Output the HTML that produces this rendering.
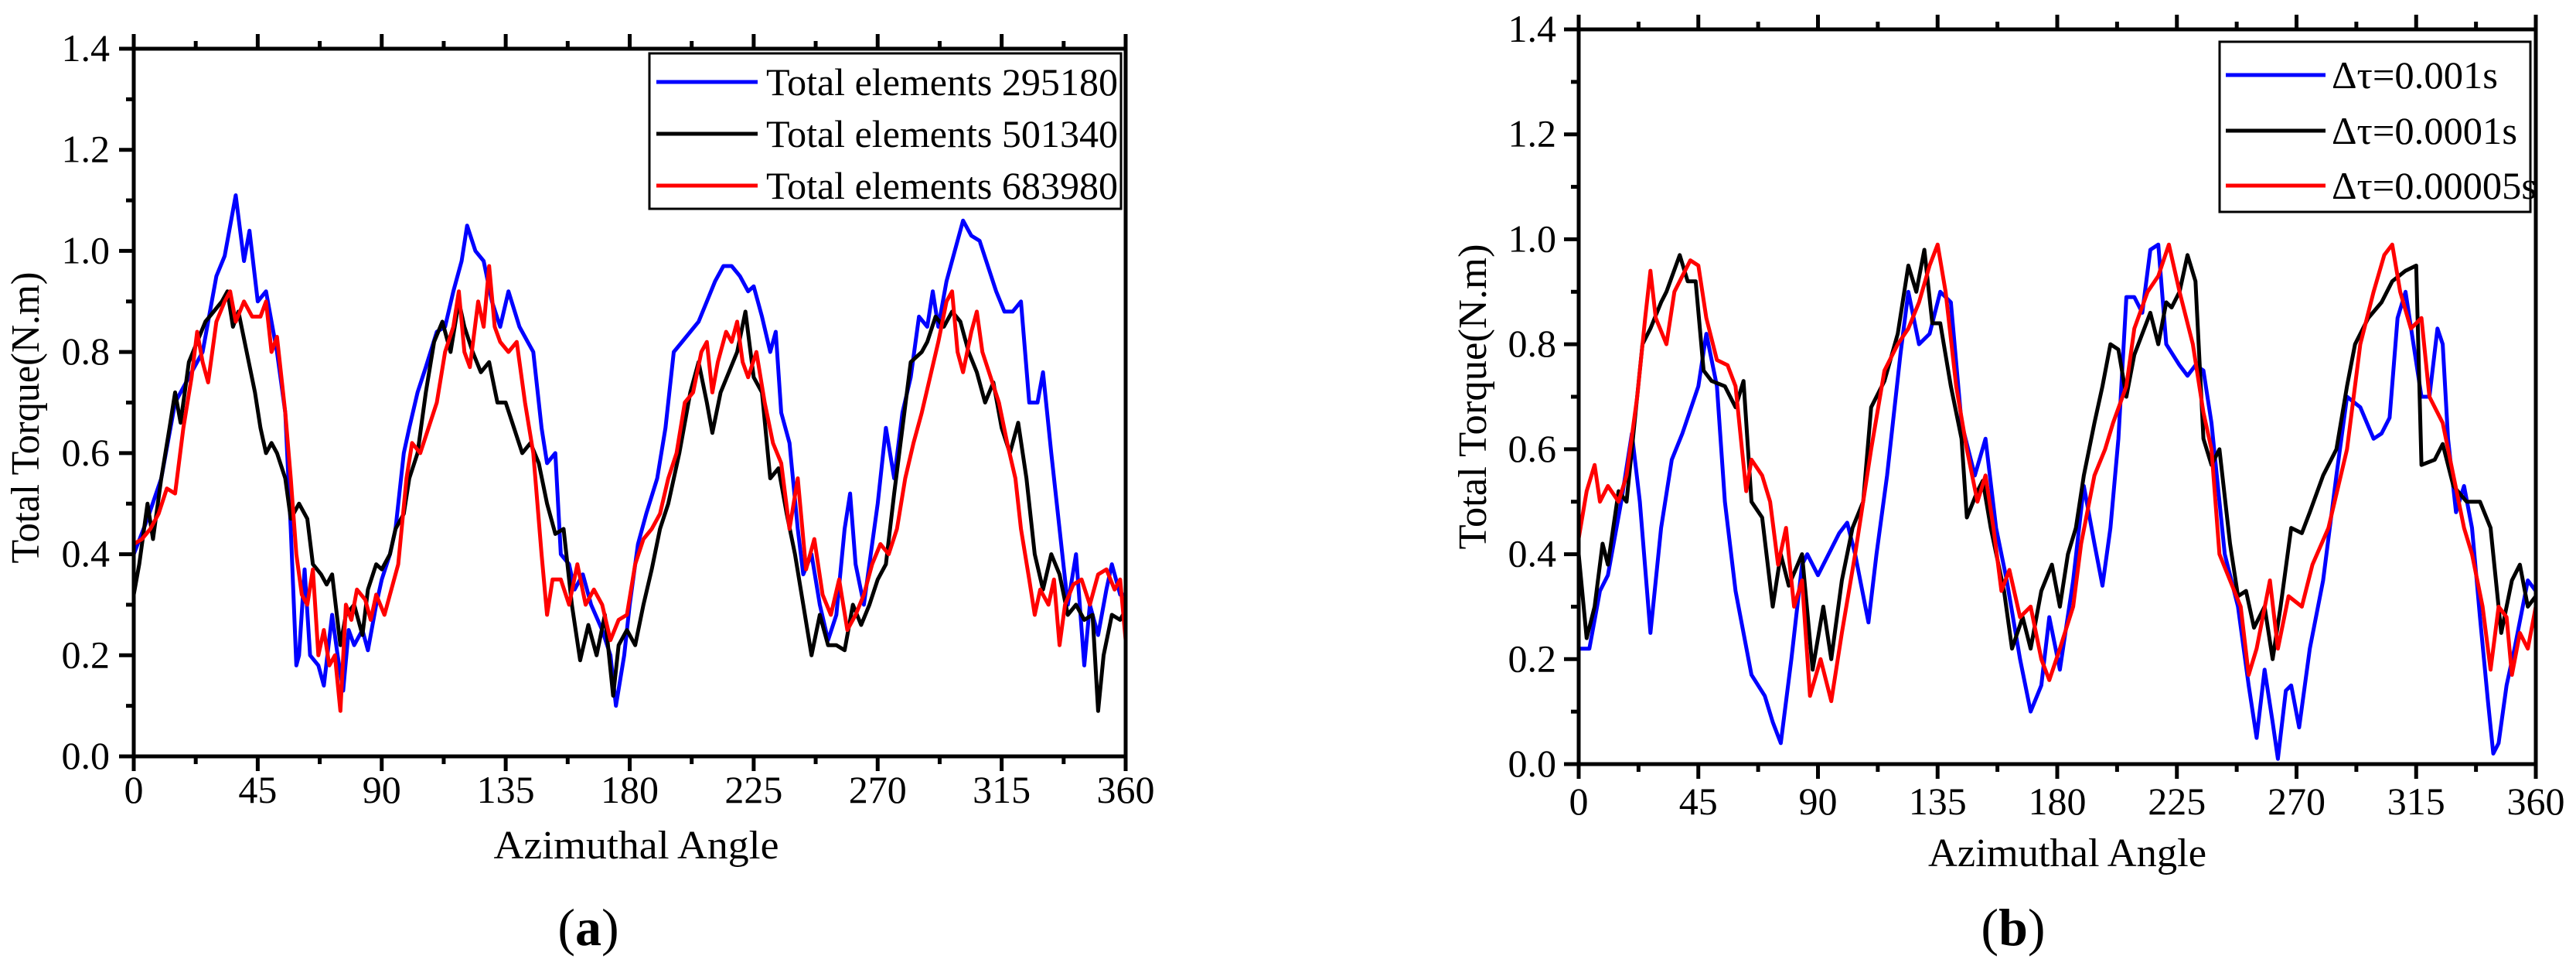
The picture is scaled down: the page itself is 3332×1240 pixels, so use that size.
<!DOCTYPE html>
<html><head><meta charset="utf-8"><style>
html,body{margin:0;padding:0;background:#fff;}
svg{display:block;}
svg text{font-family:"Liberation Serif","DejaVu Serif",serif;}
</style></head><body>
<svg id="svg" width="3332" height="1240" viewBox="0 0 3332 1240" xmlns="http://www.w3.org/2000/svg" font-family="Liberation Serif, serif"></svg>
<script>
// ---- Chart (a) data ----
const aBlueX=[0,5,10,15,20,25,30,33,37,40,42,45,48,52,55,57,59,60,62,64,67,69,72,74,76,78,80,83,85,88,90,93,95,98,100,103,106,110,113,116,119,121,124,127,130,133,136,140,143,145,148,150,153,155,158,160,163,166,170,173,175,178,180,183,186,190,193,196,199,202,205,208,211,214,217,220,223,225,228,231,233,235,238,241,243,246,249,252,255,258,260,262,265,268,270,273,276,279,282,285,288,290,292,295,298,301,304,307,310,313,316,319,322,325,328,330,333,336,339,342,345,347,350,353,355,358,360];
const aBlueY=[0.40,0.47,0.55,0.70,0.75,0.80,0.95,0.99,1.11,0.98,1.04,0.90,0.92,0.80,0.68,0.45,0.18,0.20,0.37,0.20,0.18,0.14,0.28,0.20,0.13,0.25,0.22,0.25,0.21,0.30,0.35,0.40,0.45,0.60,0.65,0.72,0.77,0.84,0.85,0.92,0.98,1.05,1.00,0.98,0.90,0.85,0.92,0.85,0.82,0.80,0.65,0.58,0.60,0.40,0.38,0.33,0.36,0.30,0.25,0.20,0.10,0.20,0.30,0.42,0.48,0.55,0.65,0.80,0.82,0.84,0.86,0.90,0.94,0.97,0.97,0.95,0.92,0.93,0.87,0.80,0.84,0.68,0.62,0.45,0.36,0.40,0.30,0.23,0.28,0.45,0.52,0.38,0.30,0.42,0.50,0.65,0.55,0.68,0.75,0.87,0.85,0.92,0.85,0.94,1.00,1.06,1.03,1.02,0.97,0.92,0.88,0.88,0.90,0.70,0.70,0.76,0.60,0.45,0.30,0.40,0.18,0.30,0.24,0.33,0.38,0.32,0.32];
const aBlackX=[0,2,5,7,10,13,15,17,20,23,26,29,32,34,36,38,41,44,46,48,50,52,55,57,60,63,65,68,70,72,75,77,80,83,85,88,90,93,95,98,100,103,106,109,112,115,118,120,123,126,129,132,135,138,141,144,147,150,153,156,159,162,165,168,171,174,176,179,182,185,188,191,194,198,202,205,208,210,213,216,219,222,225,228,231,234,237,240,243,246,249,252,255,258,261,264,267,270,273,276,279,282,286,288,291,294,297,300,303,306,309,312,315,318,321,324,327,330,333,336,339,342,345,348,350,352,355,358,360];
const aBlackY=[0.32,0.38,0.50,0.43,0.55,0.65,0.72,0.66,0.78,0.82,0.86,0.88,0.90,0.92,0.85,0.88,0.80,0.72,0.65,0.60,0.62,0.60,0.55,0.47,0.50,0.47,0.38,0.36,0.34,0.36,0.22,0.28,0.30,0.24,0.33,0.38,0.37,0.40,0.45,0.48,0.55,0.60,0.72,0.82,0.86,0.80,0.90,0.85,0.80,0.76,0.78,0.70,0.70,0.65,0.60,0.62,0.58,0.50,0.44,0.45,0.30,0.19,0.26,0.20,0.28,0.12,0.22,0.25,0.22,0.30,0.37,0.45,0.50,0.60,0.72,0.78,0.70,0.64,0.72,0.76,0.80,0.88,0.75,0.72,0.55,0.57,0.48,0.40,0.30,0.20,0.28,0.22,0.22,0.21,0.30,0.26,0.30,0.35,0.38,0.52,0.65,0.78,0.80,0.82,0.87,0.85,0.88,0.86,0.80,0.76,0.70,0.74,0.65,0.60,0.66,0.55,0.40,0.33,0.40,0.36,0.28,0.30,0.27,0.28,0.09,0.20,0.28,0.27,0.29];
const aRedX=[0,3,6,9,12,15,18,21,23,25,27,30,33,35,37,40,43,46,48,50,52,55,57,59,61,63,65,67,69,71,73,75,77,79,81,84,86,88,91,93,96,99,101,104,107,110,113,116,118,120,122,125,127,129,131,133,136,139,142,145,148,150,152,155,158,161,164,167,170,173,176,179,182,185,188,191,194,197,200,203,206,208,210,212,215,217,219,221,223,226,229,232,235,238,241,244,247,250,253,256,259,262,265,268,271,274,277,280,283,286,289,292,295,297,299,301,304,306,308,311,314,317,320,322,325,327,329,332,334,336,338,341,344,347,350,353,356,358,360];
const aRedY=[0.42,0.43,0.45,0.48,0.53,0.52,0.65,0.75,0.84,0.78,0.74,0.86,0.90,0.92,0.86,0.90,0.87,0.87,0.90,0.80,0.83,0.68,0.55,0.40,0.32,0.30,0.37,0.20,0.25,0.18,0.20,0.09,0.30,0.27,0.33,0.31,0.27,0.32,0.28,0.32,0.38,0.55,0.62,0.60,0.65,0.70,0.80,0.85,0.92,0.80,0.77,0.90,0.85,0.97,0.85,0.82,0.80,0.82,0.70,0.60,0.40,0.28,0.35,0.35,0.30,0.38,0.30,0.33,0.30,0.23,0.27,0.28,0.38,0.43,0.45,0.48,0.55,0.60,0.70,0.72,0.80,0.82,0.72,0.78,0.84,0.82,0.86,0.78,0.75,0.80,0.70,0.62,0.58,0.45,0.55,0.37,0.43,0.32,0.28,0.35,0.25,0.28,0.32,0.38,0.42,0.40,0.45,0.55,0.62,0.68,0.75,0.82,0.90,0.92,0.80,0.76,0.84,0.88,0.80,0.75,0.70,0.62,0.55,0.45,0.35,0.28,0.33,0.30,0.35,0.22,0.30,0.34,0.35,0.30,0.36,0.37,0.33,0.35,0.23];
// ---- Chart (b) data ----
const bBlueX=[0,4,8,11,16,20,23,27,31,35,39,45,48,52,55,59,65,70,73,76,80,84,86,90,95,98,101,104,109,112,116,121,124,128,132,136,140,144,149,153,157,161,166,170,174,177,181,186,190,194,197,200,203,206,209,212,215,218,221,226,229,232,235,238,243,248,252,255,258,261,263,266,268,271,275,280,285,289,294,299,302,305,308,311,314,317,320,323,325,327,330,333,336,339,342,344,346,349,352,357,360];
const bBlueY=[0.22,0.22,0.33,0.36,0.50,0.63,0.50,0.25,0.45,0.58,0.63,0.72,0.82,0.72,0.50,0.33,0.17,0.13,0.08,0.04,0.20,0.38,0.40,0.36,0.41,0.44,0.46,0.40,0.27,0.40,0.55,0.78,0.90,0.80,0.82,0.90,0.88,0.65,0.55,0.62,0.45,0.35,0.20,0.10,0.15,0.28,0.18,0.35,0.53,0.42,0.34,0.45,0.62,0.89,0.89,0.86,0.98,0.99,0.80,0.76,0.74,0.76,0.75,0.65,0.40,0.30,0.15,0.05,0.18,0.08,0.01,0.14,0.15,0.07,0.22,0.35,0.55,0.70,0.68,0.62,0.63,0.66,0.85,0.90,0.80,0.70,0.70,0.83,0.80,0.62,0.48,0.53,0.45,0.28,0.12,0.02,0.04,0.15,0.22,0.35,0.33];
const bBlackX=[0,3,6,9,11,15,18,21,24,27,31,33,38,41,44,47,50,55,59,62,65,69,73,76,79,84,88,92,95,99,103,107,110,115,120,124,127,130,133,136,140,144,146,150,152,155,160,163,167,170,174,178,181,184,187,190,194,197,200,203,206,209,212,215,218,221,223,226,229,232,235,238,241,245,248,251,254,258,261,264,268,272,275,280,285,289,292,297,302,306,311,315,317,322,325,329,334,339,343,347,351,354,357,360];
const bBlackY=[0.40,0.24,0.30,0.42,0.38,0.52,0.50,0.65,0.80,0.83,0.88,0.90,0.97,0.92,0.92,0.75,0.73,0.72,0.68,0.73,0.50,0.47,0.30,0.40,0.34,0.40,0.18,0.30,0.20,0.35,0.45,0.50,0.68,0.73,0.82,0.95,0.90,0.98,0.84,0.84,0.72,0.62,0.47,0.52,0.54,0.45,0.33,0.22,0.28,0.22,0.33,0.38,0.30,0.40,0.45,0.55,0.65,0.72,0.80,0.79,0.70,0.78,0.82,0.86,0.80,0.88,0.87,0.90,0.97,0.92,0.62,0.57,0.60,0.42,0.32,0.33,0.26,0.30,0.20,0.30,0.45,0.44,0.48,0.55,0.60,0.72,0.80,0.85,0.88,0.92,0.94,0.95,0.57,0.58,0.61,0.53,0.50,0.50,0.45,0.25,0.35,0.38,0.30,0.32];
const bRedX=[0,3,6,8,11,15,18,22,25,27,29,33,36,39,42,45,48,52,56,59,63,65,69,72,75,78,81,84,87,91,95,99,104,110,115,120,124,128,132,135,138,142,146,150,153,156,159,162,166,170,174,177,181,186,189,194,198,201,206,209,214,218,222,226,231,235,238,241,245,249,252,255,260,263,267,272,276,282,289,294,299,303,306,309,313,317,320,325,329,333,336,340,343,346,349,351,354,357,360];
const bRedY=[0.43,0.52,0.57,0.50,0.53,0.50,0.55,0.70,0.85,0.94,0.85,0.80,0.90,0.93,0.96,0.95,0.85,0.77,0.76,0.72,0.52,0.58,0.55,0.50,0.38,0.45,0.30,0.35,0.13,0.20,0.12,0.25,0.40,0.60,0.75,0.80,0.83,0.88,0.95,0.99,0.90,0.72,0.60,0.50,0.55,0.45,0.33,0.37,0.28,0.30,0.20,0.16,0.22,0.30,0.42,0.55,0.60,0.65,0.72,0.83,0.90,0.93,0.99,0.90,0.80,0.67,0.60,0.40,0.35,0.30,0.17,0.22,0.35,0.22,0.32,0.30,0.38,0.45,0.60,0.80,0.90,0.97,0.99,0.90,0.83,0.85,0.70,0.65,0.55,0.45,0.40,0.30,0.18,0.30,0.28,0.17,0.25,0.22,0.30];
const xTicks=[0,45,90,135,180,225,270,315,360];
const yTicks=["0.0","0.2","0.4","0.6","0.8","1.0","1.2","1.4"];
const legendA=["Total elements 295180","Total elements 501340","Total elements 683980"];
const legendB=["\u0394\u03c4=0.001s","\u0394\u03c4=0.0001s","\u0394\u03c4=0.00005s"];

const NS="http://www.w3.org/2000/svg";
const svg=document.getElementById('svg');
function mk(tag,attrs,parent,name,inter){
  const e=document.createElementNS(NS,tag);
  for(const k in attrs)e.setAttribute(k,attrs[k]);
  if(tag==='text')e.setAttribute('font-family','Liberation Serif, serif');
  
  
  (parent||svg).appendChild(e);return e;
}
function chart(c){
  const g=mk('g',{},svg,c.id,false);
  const sx=v=>c.x0+(v-0)/360*(c.x1-c.x0);
  const sy=v=>c.y0-(v/1.4)*(c.y0-c.y1);
  c.series.forEach(s=>{
    let d='';
    s.x.forEach((xv,i)=>{d+=(i?'L':'M')+sx(xv).toFixed(1)+' '+sy(s.y[i]).toFixed(1);});
    mk('path',{d:d,fill:'none',stroke:s.color,'stroke-width':5,'stroke-linejoin':'round'},g,s.name,false);
  });
  mk('rect',{x:c.x0,y:c.y1,width:c.x1-c.x0,height:c.y0-c.y1,fill:'none',stroke:'#000','stroke-width':5},g,'plot-frame',false);
  for(let i=0;i<=16;i++){
    const v=i*22.5, X=sx(v), L=i%2?10:19;
    mk('line',{x1:X,y1:c.y0,x2:X,y2:c.y0+L,stroke:'#000','stroke-width':5},g,'x-tick',false);
    mk('line',{x1:X,y1:c.y1,x2:X,y2:c.y1-L,stroke:'#000','stroke-width':5},g,'x-tick-top',false);
  }
  xTicks.forEach(v=>{
    const t=mk('text',{x:sx(v),y:c.xLabY,'font-size':50,'text-anchor':'middle'},g,'x-tick-label',false);
    t.textContent=v;
  });
  for(let i=0;i<=14;i++){
    const Y=sy(i*0.1), L=i%2?10:19;
    mk('line',{x1:c.x0,y1:Y,x2:c.x0-L,y2:Y,stroke:'#000','stroke-width':5},g,'y-tick',false);
  }
  yTicks.forEach((s,i)=>{
    const t=mk('text',{x:c.yLabX,y:sy(i*0.2)+16,'font-size':50,'text-anchor':'end'},g,'y-tick-label',false);
    t.textContent=s;
  });
  const xt=mk('text',{x:c.xtX,y:c.xtY,'font-size':52,'text-anchor':'middle',textLength:c.xtLen,lengthAdjust:'spacingAndGlyphs'},g,'x-axis-title',false);
  xt.textContent='Azimuthal Angle';
  const yt=mk('text',{x:0,y:0,'font-size':52,'text-anchor':'middle',textLength:c.ytLen,lengthAdjust:'spacingAndGlyphs',transform:`translate(${c.ytX},${c.ytY}) rotate(-90)`},g,'y-axis-title',false);
  yt.textContent='Total Torque(N.m)';
  const lg=mk('g',{},g,'legend',false);
  mk('rect',{x:c.lg[0],y:c.lg[1],width:c.lg[2]-c.lg[0],height:c.lg[3]-c.lg[1],fill:'#fff',stroke:'#000','stroke-width':3},lg,'legend-box',false);
  c.series.forEach((s,i)=>{
    const Y=c.lgRows[i];
    mk('line',{x1:c.lgL[0],y1:Y,x2:c.lgL[1],y2:Y,stroke:s.color,'stroke-width':5},lg,'legend-swatch',false);
    const t=mk('text',{x:c.lgL[2],y:Y+17,'font-size':50,textLength:c.lgLen[i],lengthAdjust:'spacingAndGlyphs'},lg,'legend-entry',false);
    t.textContent=c.labels[i];
  });
  const p=mk('text',{x:c.pX,y:1222,'font-size':68,'text-anchor':'middle'},g,'panel-label',false);
  p.innerHTML='(<tspan font-weight="bold">'+c.panel+'</tspan>)';
}
chart({id:'chart-a',x0:173,x1:1456,y0:978,y1:63,xLabY:1038,yLabX:142,xtX:823,xtY:1110,xtLen:369,ytX:50,ytY:540,ytLen:377,
  lg:[840,69,1450,270],lgRows:[106,173,240],lgL:[849,980,991],lgLen:[455,455,455],labels:legendA,pX:761,panel:'a',
  series:[{name:'series-295180',color:'#0000ff',x:aBlueX,y:aBlueY},{name:'series-501340',color:'#000000',x:aBlackX,y:aBlackY},{name:'series-683980',color:'#ff0000',x:aRedX,y:aRedY}]});
chart({id:'chart-b',x0:2042,x1:3280,y0:988,y1:38,xLabY:1053,yLabX:2013,xtX:2674,xtY:1120,xtLen:360,ytX:1922,ytY:513,ytLen:395,
  lg:[2871,54,3273,274],lgRows:[97,169,240],lgL:[2879,3008,3016],lgLen:[215,240,265],labels:legendB,pX:2604,panel:'b',
  series:[{name:'series-dt-0.001',color:'#0000ff',x:bBlueX,y:bBlueY},{name:'series-dt-0.0001',color:'#000000',x:bBlackX,y:bBlackY},{name:'series-dt-0.00005',color:'#ff0000',x:bRedX,y:bRedY}]});
</script>
</body></html>
